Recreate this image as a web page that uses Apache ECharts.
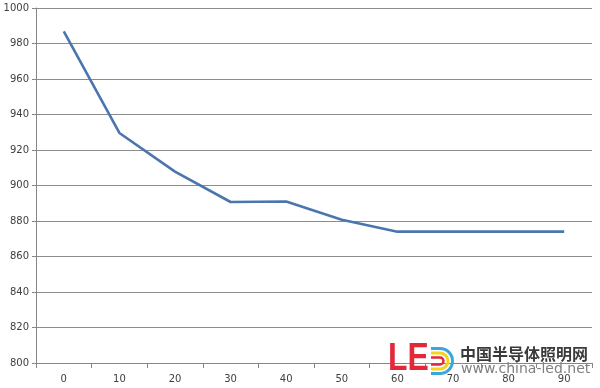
<!DOCTYPE html>
<html><head><meta charset="utf-8">
<script src="https://cdn.jsdelivr.net/npm/echarts@6/dist/echarts.min.js"></script>
<style>html,body{margin:0;padding:0;background:#fff}#c{width:600px;height:388px}</style>
</head><body><div id="c"></div>
<script>
const categories = ['0','10','20','30','40','50','60','70','80','90'];
const values = [986.8, 929.6, 907.8, 890.7, 891.0, 880.7, 874.0, 874.0, 874.0, 874.0];
const yMin = 800, yMax = 1000, yStep = 20;

function dShape(r, color, w) {
  const cx = 440, cy = 361;
  return [
    {type:'polyline', shape:{points:[[431, cy - r],[cx, cy - r]]}, style:{stroke:color, lineWidth:w, fill:null}, z:100},
    {type:'polyline', shape:{points:[[431, cy + r],[cx, cy + r]]}, style:{stroke:color, lineWidth:w, fill:null}, z:100},
    {type:'arc', shape:{cx:cx, cy:cy, r:r, startAngle:-Math.PI/2, endAngle:Math.PI/2, clockwise:true}, style:{stroke:color, lineWidth:w, fill:null}, z:100}
  ];
}

const chart = echarts.init(document.getElementById('c'), null, {renderer:'canvas'});
chart.setOption({
  animation:false,
  backgroundColor:'#fff',
  grid:{left:36, right:8, top:8, bottom:25, containLabel:false},
  xAxis:{type:'category', data:categories, boundaryGap:true,
    axisLine:{lineStyle:{color:'#868686', width:1}},
    axisTick:{show:true, alignWithLabel:false, length:5, lineStyle:{color:'#868686'}},
    axisLabel:{color:'#404040', fontFamily:'DejaVu Sans', fontSize:10, margin:11}},
  yAxis:{type:'value', min:yMin, max:yMax, interval:yStep,
    axisLine:{show:true, lineStyle:{color:'#868686', width:1}},
    axisTick:{show:true, inside:false, length:4, lineStyle:{color:'#868686'}},
    axisLabel:{color:'#404040', fontFamily:'DejaVu Sans', fontSize:10, margin:7,
      formatter:function(v){return String(v);}},
    splitLine:{lineStyle:{color:'#8c8c8c', width:1}}},
  series:[{type:'line', data:values, symbol:'none', smooth:false,
    lineStyle:{color:'#4a76ad', width:2.6}}],
  graphic:[
    {type:'text', x:388, y:341, scaleX:0.84, style:{text:'LE', fill:'#e3283a', font:'bold 38px "Liberation Sans"'}, z:100}
  ].concat(dShape(12.5, '#3aa6e0', 3), dShape(8, '#f5d31f', 3), dShape(3.5, '#e3283a', 2.5), [
    {type:'text', x:460, y:346, style:{text:'中国半导体照明网', fill:'#3a3a3a', font:'bold 16px "Noto Sans CJK SC"'}, z:100},
    {type:'text', x:461, y:362, style:{text:'www.china-led.net', fill:'#808080', font:'14px "DejaVu Sans"'}, z:100}
  ])
});
</script></body></html>
